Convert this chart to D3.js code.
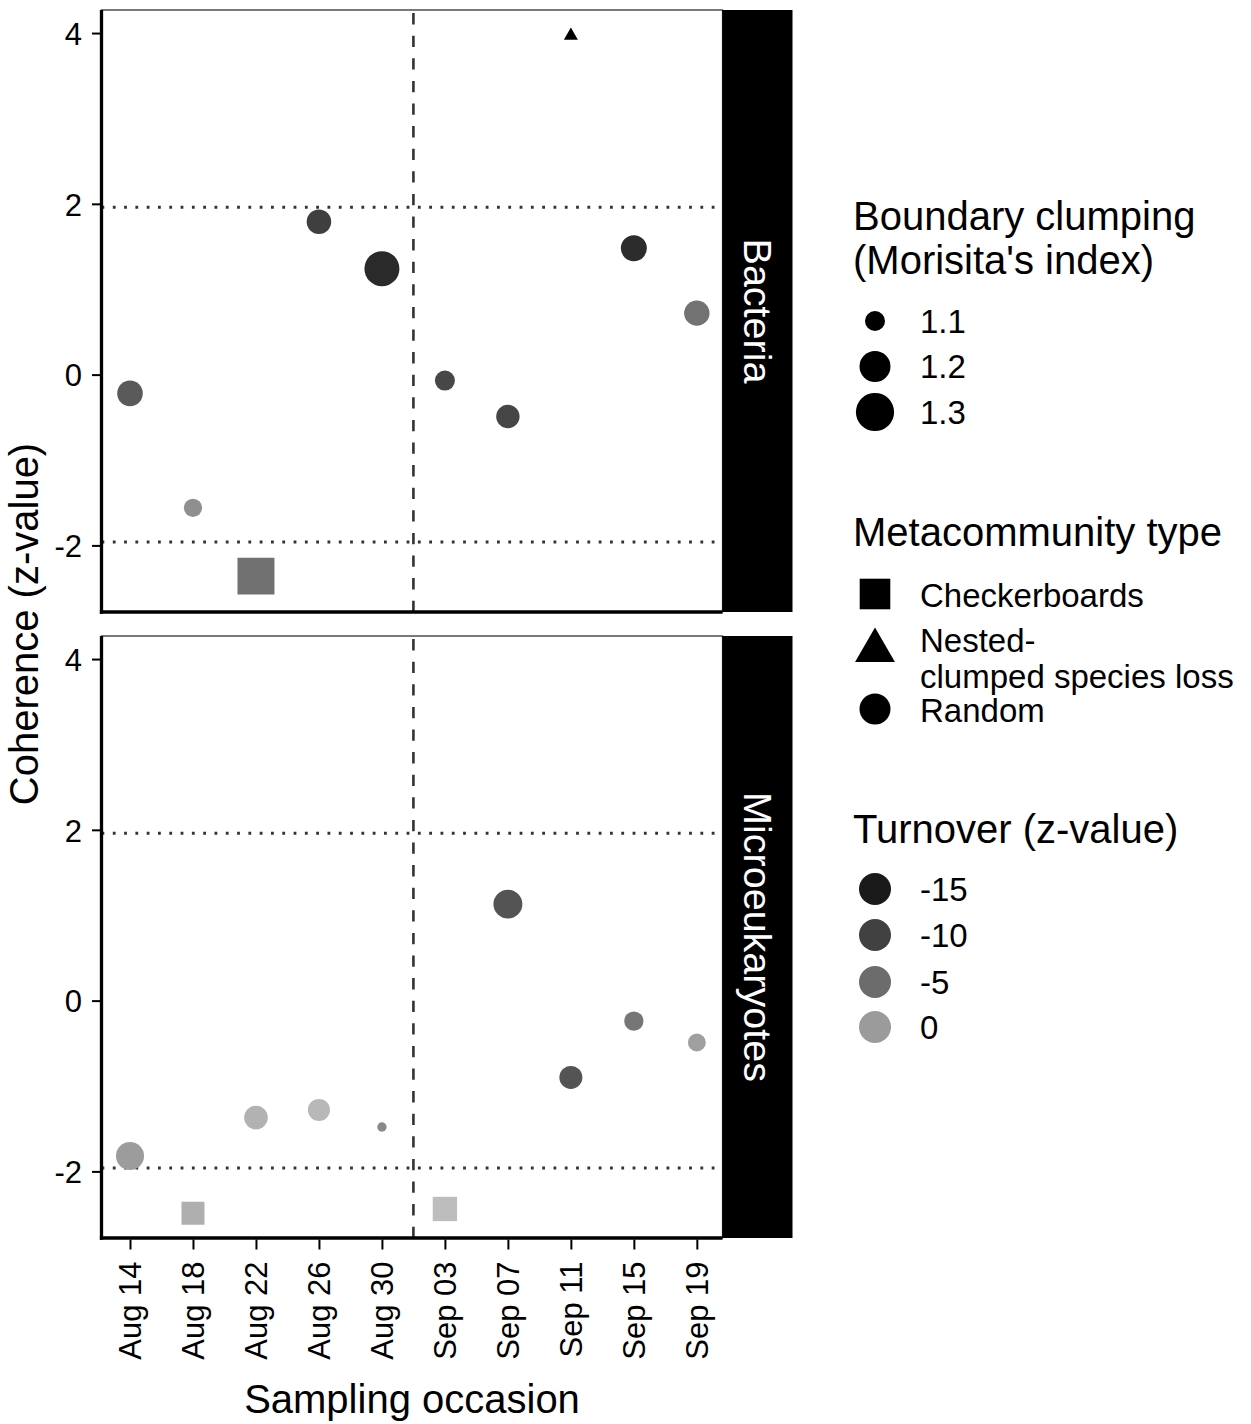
<!DOCTYPE html>
<html><head><meta charset="utf-8">
<script src="https://cdn.jsdelivr.net/npm/d3@7"></script>
<style>
body{margin:0;background:#fff}
svg{display:block}
text{font-family:"Liberation Sans",Arial,Helvetica,sans-serif;fill:#000}
</style>
</head><body>
<svg id="chart" width="1251" height="1424"></svg>
<script>
// ---------------- data ----------------
const samplingDates = ["2019-08-14","2019-08-18","2019-08-22","2019-08-26","2019-08-30",
                       "2019-09-03","2019-09-07","2019-09-11","2019-09-15","2019-09-19"];
const facets = ["Bacteria", "Microeukaryotes"];

const bacteriaCoherence = [-0.22, -1.56, -2.36, 1.79, 1.24, -0.07, -0.49, 3.97, 1.48, 0.72];
const bacteriaMorisita  = [1.143, 1.090, 1.281, 1.134, 1.252, 1.100, 1.124, 1.064, 1.147, 1.141];
const bacteriaTurnover  = [-7.1, -1.3, -4.5, -10.2, -12.9, -9.3, -9.4, -17.5, -12.6, -4.4];
const bacteriaType      = ["Random","Random","Checkerboards","Random","Random",
                           "Random","Random","Nested-clumped species loss","Random","Random"];

const microCoherence = [-1.82, -2.49, -1.37, -1.28, -1.48, -2.44, 1.13, -0.90, -0.24, -0.49];
const microMorisita  = [1.167, 1.121, 1.126, 1.114, 1.063, 1.132, 1.177, 1.121, 1.096, 1.088];
const microTurnover  = [0.1, 2.1, 2.4, 3.0, -1.9, 3.5, -7.8, -7.7, -3.9, 0.4];
const microType      = ["Random","Checkerboards","Random","Random","Random",
                        "Checkerboards","Random","Random","Random","Random"];

const yTicks = [-2, 0, 2, 4];
const thresholds = [-1.96, 1.96];
const breakDate = "2019-09-01";
const sizeBreaks = [1.1, 1.2, 1.3];
const typeLevels = ["Checkerboards", "Nested-clumped species loss", "Random"];
const typeLabels = [["Checkerboards"], ["Nested-", "clumped species loss"], ["Random"]];
const turnoverBreaks = [-15, -10, -5, 0];

const sizeTitle = ["Boundary clumping", "(Morisita's index)"];
const typeTitle = "Metacommunity type";
const colourTitle = "Turnover (z-value)";
const xTitle = "Sampling occasion";
const yTitle = "Coherence (z-value)";

// ---------------- setup ----------------
const parse = d3.utcParse("%Y-%m-%d");
const DAY = 864e5;
const svg = d3.select("#chart");

const panelLeft = 101.5, panelRight = 722.5, stripW = 70;
const panels = [{top: 10, bottom: 612}, {top: 636, bottom: 1238}];

const d0 = parse(samplingDates[0]), d1 = parse(samplingDates[samplingDates.length - 1]);
const x = d3.scaleUtc()
  .domain([new Date(+d0 - 1.81 * DAY), new Date(+d1 + 1.63 * DAY)])
  .range([panelLeft, panelRight]);

const yDomain = [-2.78, 4.27];

// size: area-type scale (R radius in px)
const sizeLin = d3.scaleLinear().domain([0, 1]).range([4, 19.1]);
const sizeMin = 1.0625, sizeMax = 1.3;
const radius = v => sizeLin(Math.sqrt(Math.max(0, (v - sizeMin) / (sizeMax - sizeMin))));

const colour = d3.scaleLinear().domain([-15, 0]).range(["#1a1a1a", "#9b9b9b"])
  .interpolate(d3.interpolateLab);

function symbolPath(type, R) {
  if (type === "Checkerboards") return d3.symbol(d3.symbolSquare, 4 * R * R)();
  if (type === "Random") return d3.symbol(d3.symbolCircle, Math.PI * R * R)();
  return d3.symbol(d3.symbolTriangle, Math.PI * R * R)();
}

const facetData = [
  samplingDates.map((d, i) => ({date: parse(d), y: bacteriaCoherence[i], m: bacteriaMorisita[i], t: bacteriaTurnover[i], type: bacteriaType[i]})),
  samplingDates.map((d, i) => ({date: parse(d), y: microCoherence[i], m: microMorisita[i], t: microTurnover[i], type: microType[i]}))
];

panels.forEach((p, pi) => {
  const y = d3.scaleLinear().domain(yDomain).range([p.bottom, p.top]);
  const g = svg.append("g");

  // panel background & thin border
  g.append("rect").attr("x", panelLeft).attr("y", p.top)
    .attr("width", panelRight - panelLeft).attr("height", p.bottom - p.top)
    .attr("fill", "#fff").attr("stroke", "#222").attr("stroke-width", 1.2);

  // threshold dotted lines
  thresholds.forEach(tv => {
    g.append("line").attr("x1", panelLeft).attr("x2", panelRight)
      .attr("y1", y(tv)).attr("y2", y(tv))
      .attr("stroke", "#333").attr("stroke-width", 2.8)
      .attr("stroke-dasharray", "2.8,8.5");
  });

  // vertical dashed line
  const bx = x(parse(breakDate));
  g.append("line").attr("x1", bx).attr("x2", bx)
    .attr("y1", p.bottom).attr("y2", p.top)
    .attr("stroke", "#333").attr("stroke-width", 2.6)
    .attr("stroke-dasharray", "11.3,11.3");

  // points
  g.selectAll("path.pt").data(facetData[pi]).join("path")
    .attr("class", "pt")
    .attr("transform", d => `translate(${x(d.date)},${y(d.y)})`)
    .attr("d", d => symbolPath(d.type, radius(d.m)))
    .attr("fill", d => colour(d.t));

  // strip
  g.append("rect").attr("x", panelRight).attr("y", p.top)
    .attr("width", stripW).attr("height", p.bottom - p.top).attr("fill", "#000");
  g.append("text")
    .attr("transform", `translate(${panelRight + stripW / 2},${(p.top + p.bottom) / 2}) rotate(90)`)
    .attr("text-anchor", "middle").attr("dominant-baseline", "central")
    .style("fill", "#fff").style("font-size", "39.5px")
    .text(facets[pi]);

  // y axis
  const ya = g.append("g").attr("transform", `translate(${panelLeft},0)`)
    .call(d3.axisLeft(y).tickValues(yTicks).tickSize(9.5).tickPadding(10).tickFormat(d => d < 0 ? "-" + Math.abs(d) : String(d)));
  ya.select(".domain").remove();
  ya.selectAll(".tick line").attr("stroke", "#000").attr("stroke-width", 2);
  ya.selectAll(".tick text").style("font-size", "31px").attr("dy", "0.36em");

  // axis lines (left + bottom)
  g.append("line").attr("x1", panelLeft).attr("x2", panelLeft)
    .attr("y1", p.top).attr("y2", p.bottom + 1.7)
    .attr("stroke", "#000").attr("stroke-width", 3.3);
  g.append("line").attr("x1", panelLeft - 1.65).attr("x2", panelRight)
    .attr("y1", p.bottom).attr("y2", p.bottom)
    .attr("stroke", "#000").attr("stroke-width", 3.3);

  // x axis only in bottom panel
  if (pi === panels.length - 1) {
    const xa = g.append("g").attr("transform", `translate(0,${p.bottom + 1.5})`)
      .call(d3.axisBottom(x).tickValues(samplingDates.map(parse))
        .tickSize(10).tickFormat(d3.utcFormat("%b %d")));
    xa.select(".domain").remove();
    xa.selectAll(".tick line").attr("stroke", "#000").attr("stroke-width", 2);
    xa.selectAll(".tick text")
      .style("font-size", "31px")
      .attr("text-anchor", "end")
      .attr("dominant-baseline", "central")
      .attr("dy", null)
      .attr("y", 0)
      .attr("transform", "translate(0,22) rotate(-90)");
  }
});

// axis titles
svg.append("text").attr("x", (panelLeft + panelRight) / 2).attr("y", 1413)
  .attr("text-anchor", "middle").style("font-size", "40px").text(xTitle);
svg.append("text")
  .attr("transform", `translate(38,${(panels[0].top + panels[1].bottom) / 2}) rotate(-90)`)
  .attr("text-anchor", "middle").style("font-size", "40px").text(yTitle);

// ---------------- legends ----------------
const lg = svg.append("g");
const keyX = 875, labX = 920;

sizeTitle.forEach((t, i) => lg.append("text").attr("x", 853).attr("y", 230 + i * 44)
  .style("font-size", "40px").text(t));
const sizeY = [321, 366.5, 412];
sizeBreaks.forEach((v, i) => {
  lg.append("circle").attr("cx", keyX).attr("cy", sizeY[i]).attr("r", radius(v)).attr("fill", "#000");
  lg.append("text").attr("x", labX).attr("y", sizeY[i] + 11.8).style("font-size", "33px").text(v.toFixed(1));
});

lg.append("text").attr("x", 853).attr("y", 546).style("font-size", "40px").text(typeTitle);
const typeY = [594, 650.4, 709];
const typeLabelY = [[607], [652, 688], [722]];
typeLevels.forEach((t, i) => {
  lg.append("path").attr("transform", `translate(${keyX},${typeY[i]})`)
    .attr("d", symbolPath(t, t === "Checkerboards" ? 15.3 : (t === "Random" ? 15.5 : 14.8)))
    .attr("fill", "#000");
  typeLabels[i].forEach((s, j) => lg.append("text").attr("x", labX).attr("y", typeLabelY[i][j])
    .style("font-size", "33px").text(s));
});

lg.append("text").attr("x", 853).attr("y", 843).style("font-size", "40px").text(colourTitle);
const colY = [889, 935, 982, 1027];
turnoverBreaks.forEach((v, i) => {
  lg.append("circle").attr("cx", keyX).attr("cy", colY[i]).attr("r", 16).attr("fill", colour(v));
  lg.append("text").attr("x", labX).attr("y", colY[i] + 11.8).style("font-size", "33px").text(String(v));
});
</script>
</body></html>
